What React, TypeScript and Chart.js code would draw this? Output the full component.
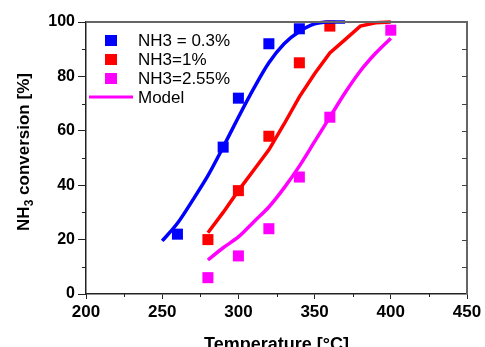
import React, { useEffect, useRef } from "react";
import { Chart, registerables } from "chart.js";

Chart.register(...registerables);

// Measured data
const blueT = [260, 290, 300, 320, 340];
const blueConv = [22, 54, 72, 92, 97.5];
const redT = [280, 300, 320, 340, 360];
const redConv = [20, 38, 58, 85, 98.5];
const magT = [280, 300, 320, 340, 360, 400];
const magConv = [6, 14, 24, 43, 65, 97];

// Model curves
const modelBlueT = [250, 260, 270, 280, 290, 300, 310, 320, 330, 340, 350, 360, 370];
const modelBlue = [19.5, 26, 34.5, 43.5, 54, 65, 75.5, 85, 92, 96.5, 99.3, 100, 100];
const modelRedT = [280, 290, 300, 310, 320, 330, 340, 350, 360, 370, 380, 390, 400];
const modelRed = [22.5, 30, 38, 45.5, 53, 62.5, 72.5, 81, 88.6, 93.5, 98.5, 99.7, 100];
const modelMagT = [280, 290, 300, 310, 320, 330, 340, 350, 360, 370, 380, 390, 400];
const modelMag = [12.5, 17, 21, 26.5, 32, 39, 47, 56, 65, 74, 82, 88.5, 94];

const legendLabels = ["NH3 = 0.3%", "NH3=1%", "NH3=2.55%", "Model"];
const xTitle = "Temperature [°C]";
const yTitleParts = ["NH", "3", " conversion [%]"];

const BLUE = "#0000FF";
const RED = "#FF0000";
const MAG = "#FF00FF";
const FONT = '"Liberation Sans", Arial, sans-serif';

const pts = (xs: number[], ys: number[]) => xs.map((x, i) => ({ x, y: ys[i] }));

const extrasPlugin = {
  id: "extras",
  afterDraw(chart: any) {
    const { ctx, chartArea: a, scales } = chart;
    const xs = scales.x;
    const ys = scales.y;
    ctx.save();
    // top & right frame
    ctx.strokeStyle = "#666";
    ctx.lineWidth = 2;
    ctx.beginPath();
    ctx.moveTo(a.left, a.top);
    ctx.lineTo(a.right, a.top);
    ctx.lineTo(a.right, a.bottom);
    ctx.stroke();
    // right inward ticks
    ctx.lineWidth = 1;
    ctx.strokeStyle = "#444";
    ctx.beginPath();
    for (let v = 10; v < 100; v += 10) {
      const py = Math.round(ys.getPixelForValue(v)) + 0.5;
      ctx.moveTo(a.right, py);
      ctx.lineTo(a.right - 5, py);
    }
    ctx.stroke();
    // minor ticks left & bottom
    ctx.strokeStyle = "#222";
    ctx.beginPath();
    for (let v = 10; v < 100; v += 20) {
      const py = Math.round(ys.getPixelForValue(v)) + 0.5;
      ctx.moveTo(a.left, py);
      ctx.lineTo(a.left - 4, py);
    }
    for (let v = 225; v < 450; v += 50) {
      const px = Math.round(xs.getPixelForValue(v)) + 0.5;
      ctx.moveTo(px, a.bottom);
      ctx.lineTo(px, a.bottom + 3);
    }
    ctx.stroke();

    // legend
    const colors = [BLUE, RED, MAG];
    const rowY = [40, 59, 78, 97];
    ctx.font = `17px ${FONT}`;
    ctx.textBaseline = "middle";
    ctx.textAlign = "left";
    for (let i = 0; i < 3; i++) {
      ctx.fillStyle = colors[i];
      ctx.fillRect(105, rowY[i] - 5, 12, 11);
      ctx.fillStyle = "#000";
      ctx.fillText(legendLabels[i], 138, rowY[i] + 1);
    }
    ctx.strokeStyle = MAG;
    ctx.lineWidth = 3;
    ctx.beginPath();
    ctx.moveTo(89, rowY[3]);
    ctx.lineTo(133, rowY[3]);
    ctx.stroke();
    ctx.fillStyle = "#000";
    ctx.fillText(legendLabels[3], 138, rowY[3] + 1);

    // y title with subscript
    ctx.translate(29, (a.top + a.bottom) / 2 - 6);
    ctx.rotate(-Math.PI / 2);
    const big = `bold 17px ${FONT}`;
    const small = `bold 12px ${FONT}`;
    ctx.font = big;
    const w0 = ctx.measureText(yTitleParts[0]).width;
    const w2 = ctx.measureText(yTitleParts[2]).width;
    ctx.font = small;
    const w1 = ctx.measureText(yTitleParts[1]).width;
    const total = w0 + w1 + w2;
    let x0 = -total / 2;
    ctx.textBaseline = "alphabetic";
    ctx.fillStyle = "#000";
    ctx.font = big;
    ctx.fillText(yTitleParts[0], x0, 0);
    x0 += w0;
    ctx.font = small;
    ctx.fillText(yTitleParts[1], x0, 4);
    x0 += w1;
    ctx.font = big;
    ctx.fillText(yTitleParts[2], x0, 0);
    ctx.restore();
  },
};

export default function App() {
  const ref = useRef<HTMLCanvasElement | null>(null);
  useEffect(() => {
    if (!ref.current) return;
    const lineDs = (data: any[], color: string, tension: number) => ({
      type: "line" as const,
      data,
      borderColor: color,
      backgroundColor: color,
      borderWidth: 3.5,
      pointRadius: 0,
      tension,
      fill: false,
      clip: false as any,
    });
    const ptDs = (data: any[], color: string) => ({
      type: "scatter" as const,
      data,
      backgroundColor: color,
      borderColor: color,
      borderWidth: 0,
      pointStyle: "rect" as const,
      pointRadius: 7.8,
      showLine: false,
      clip: false as any,
    });
    const chart = new Chart(ref.current, {
      type: "scatter",
      data: {
        datasets: [
          lineDs(pts(modelBlueT, modelBlue), BLUE, 0.3),
          lineDs(pts(modelRedT, modelRed), RED, 0),
          lineDs(pts(modelMagT, modelMag), MAG, 0.3),
          ptDs(pts(blueT, blueConv), BLUE),
          ptDs(pts(redT, redConv), RED),
          ptDs(pts(magT, magConv), MAG),
        ] as any,
      },
      options: {
        animation: false,
        responsive: true,
        maintainAspectRatio: false,
        layout: { padding: { top: 22, right: 18, left: 0, bottom: 0 } },
        plugins: { legend: { display: false }, tooltip: { enabled: false } },
        scales: {
          x: {
            type: "linear",
            min: 200,
            max: 450,
            afterFit: (s: any) => {
              s.height = 66;
            },
            border: { display: true, color: "#222", width: 1.5 },
            grid: { drawOnChartArea: false, drawTicks: true, tickLength: 5, color: "#222" },
            ticks: {
              stepSize: 50,
              padding: 3,
              color: "#000",
              font: { family: FONT, size: 17, weight: "bold" },
            },
            title: {
              display: true,
              text: xTitle,
              color: "#000",
              font: { family: FONT, size: 18, weight: "bold" },
              padding: { top: 0, bottom: 4 },
            },
          },
          y: {
            type: "linear",
            min: 0,
            max: 100,
            afterFit: (s: any) => {
              s.width = 86;
            },
            border: { display: true, color: "#222", width: 1.5 },
            grid: { drawOnChartArea: false, drawTicks: true, tickLength: 8, color: "#222" },
            ticks: {
              stepSize: 20,
              padding: 3,
              color: "#000",
              font: { family: FONT, size: 16, weight: "bold" },
            },
          },
        },
      },
      plugins: [extrasPlugin],
    });
    return () => chart.destroy();
  }, []);
  return (
    <div
      style={{
        position: "fixed",
        left: 0,
        top: 0,
        width: 485,
        height: 347,
        overflow: "hidden",
        background: "#fff",
      }}
    >
      <div style={{ position: "relative", width: 485, height: 360 }}>
        <canvas ref={ref} />
      </div>
    </div>
  );
}
